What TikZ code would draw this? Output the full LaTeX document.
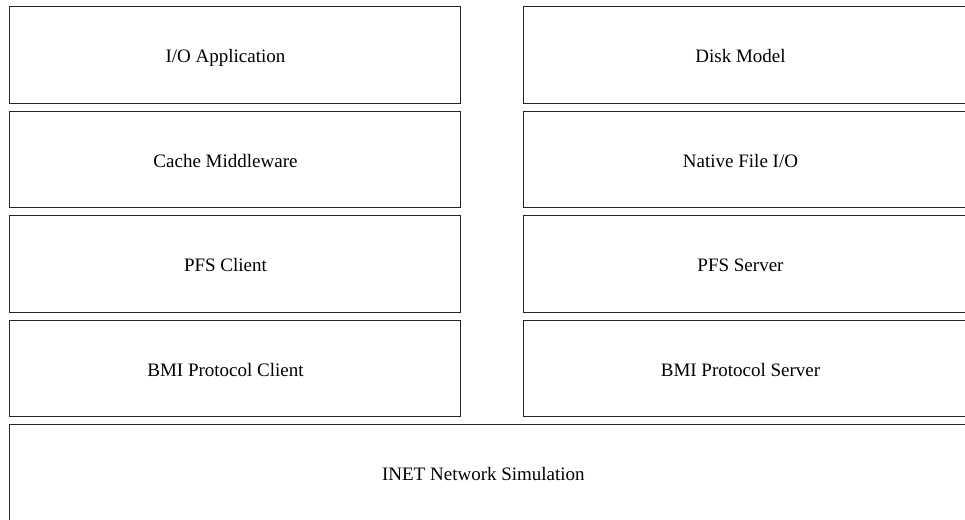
\documentclass[tikz,border=0pt]{standalone}
\usepackage{fontspec}
\setmainfont{Liberation Serif}
\begin{document}
\begin{tikzpicture}[x=1pt,y=-1pt,
  layer/.style={draw=black!85, line width=1pt, inner sep=0pt, anchor=north west,
    minimum height=96.5pt},
  half/.style={layer, minimum width=451pt},
  full/.style={layer, minimum width=970pt},
  lbl/.style={anchor=base, inner sep=0pt, font=\fontsize{19}{22}\selectfont}]
\useasboundingbox (0,0) rectangle (965,519);
\clip (0,0) rectangle (965,519);
% left column
\node[half] (b1) at (8.5,6) {};
\node[half] (b2) at (8.5,110.5) {};
\node[half] (b3) at (8.5,215) {};
\node[half] (b4) at (8.5,319.5) {};
% right column
\node[layer, minimum width=460pt] (c1) at (523,6) {};
\node[layer, minimum width=460pt] (c2) at (523,110.5) {};
\node[layer, minimum width=460pt] (c3) at (523,215) {};
\node[layer, minimum width=460pt] (c4) at (523,319.5) {};
% bottom
\node[full] (net) at (8.5,424) {};
% labels
\node[lbl] (t1) at (225.5,62.7) {I/O Application};
\node[lbl] (t2) at (225.5,167.2) {Cache Middleware};
\node[lbl] (t3) at (225.5,271.7) {PFS Client};
\node[lbl] (t4) at (225.5,376.2) {BMI Protocol Client};
\node[lbl] (u1) at (740.5,62.7) {Disk Model};
\node[lbl] (u2) at (740.5,167.2) {Native File I/O};
\node[lbl] (u3) at (740.5,271.7) {PFS Server};
\node[lbl] (u4) at (740.5,376.2) {BMI Protocol Server};
\node[lbl] (tn) at (483.4,480.7) {INET Network Simulation};
\end{tikzpicture}
\end{document}
